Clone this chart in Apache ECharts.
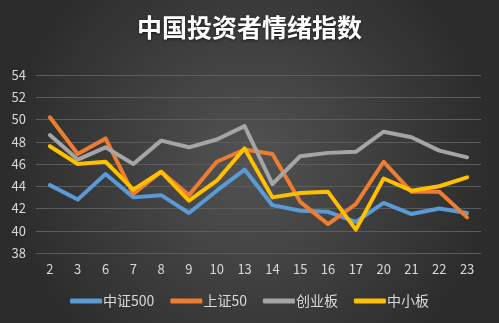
<!DOCTYPE html>
<html><head><meta charset="utf-8">
<script src="https://cdn.jsdelivr.net/npm/echarts@6/dist/echarts.min.js"></script>
<style>html,body{margin:0;padding:0;}#c{width:499px;height:323px;}</style>
</head><body><div id="c"></div>
<script>
const categories = ['2','3','6','7','8','9','10','13','14','15','16','17','20','21','22','23'];
const zz500 = [44.1,42.8,45.1,43.0,43.2,41.6,43.6,45.5,42.3,41.8,41.7,40.8,42.5,41.5,42.0,41.6];
const sz50  = [50.2,46.9,48.3,43.3,45.3,43.2,46.2,47.3,46.9,42.6,40.6,42.4,46.2,43.5,43.5,41.2];
const cyb   = [48.6,46.4,47.5,46.0,48.1,47.5,48.2,49.4,44.2,46.7,47.0,47.1,48.9,48.4,47.2,46.6];
const zxb   = [47.6,46.0,46.2,43.7,45.3,42.7,44.5,47.4,43.0,43.4,43.5,40.1,44.7,43.6,44.0,44.8];
const seriesNames = ['中证500','上证50','创业板','中小板'];
const colors = ['#5B9BD5','#ED7D31','#A5A5A5','#FFC000'];
const font = '"Noto Sans CJK SC","Noto Sans",sans-serif';
const chart = echarts.init(document.getElementById('c'));
const dataSets = [zz500, sz50, cyb, zxb];
chart.setOption({
  animation: false,
  backgroundColor: {
    type: 'radial', x: 0.5, y: 0.5, r: 0.75,
    colorStops: [{offset: 0, color: '#535353'}, {offset: 1, color: '#2c2c2c'}]
  },
  title: {
    text: '中国投资者情绪指数', left: 'center', top: 10,
    textStyle: {color: '#ffffff', fontSize: 25, fontWeight: 'bold', fontFamily: font,
      textShadowColor: 'rgba(0,0,0,0.6)', textShadowBlur: 3, textShadowOffsetY: 1}
  },
  legend: {
    data: seriesNames, bottom: 10, left: 'center', itemWidth: 32, itemHeight: 5,
    itemGap: 16, icon: 'roundRect',
    textStyle: {color: '#d9d9d9', fontSize: 14, fontFamily: font, padding: [0,0,0,-4]}
  },
  grid: {left: 36, right: 18, top: 75, bottom: 70},
  xAxis: {
    type: 'category', data: categories, boundaryGap: true,
    axisLine: {show: false}, axisTick: {show: false},
    axisLabel: {color: '#d9d9d9', fontSize: 13, fontFamily: font, margin: 10}
  },
  yAxis: {
    type: 'value', min: 38, max: 54, interval: 2,
    axisLine: {show: false}, axisTick: {show: false},
    axisLabel: {color: '#d9d9d9', fontSize: 13, fontFamily: font, margin: 10},
    splitLine: {lineStyle: {color: '#5c5c5c', width: 1}}
  },
  series: dataSets.map((d, i) => ({
    name: seriesNames[i], type: 'line', data: d, symbol: 'none',
    lineStyle: {color: colors[i], width: 4, join: 'round', cap: 'round'},
    itemStyle: {color: colors[i]}
  }))
});
</script></body></html>
